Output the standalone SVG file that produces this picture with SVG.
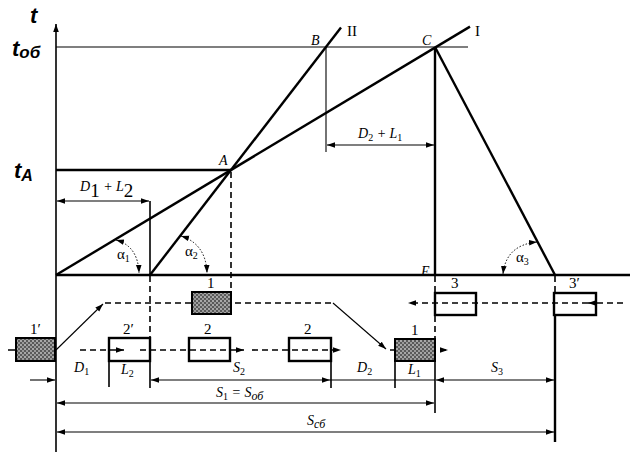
<svg xmlns="http://www.w3.org/2000/svg" width="637" height="458" viewBox="0 0 637 458">
<style>
.ln{stroke:#000;fill:none;stroke-linecap:butt}
.th{stroke-width:2.4}
.md{stroke-width:1.6}
.tn{stroke-width:1.1}
.ds{stroke-dasharray:6 4}
.dt{stroke-dasharray:1.5 1.8;stroke-width:1}
.lb{font-family:"Liberation Serif",serif;font-style:italic;font-size:14px;fill:#000}
.rm{font-family:"Liberation Serif",serif;font-size:15px;fill:#000}
.tt{font-family:"Liberation Sans",sans-serif;font-style:italic;font-weight:bold;font-size:22px;fill:#000}
.box{fill:none;stroke:#000;stroke-width:2.4}
.hb{fill:url(#hatch);stroke:#000;stroke-width:2}
</style>
<defs>
<pattern id="hatch" width="4" height="4" patternUnits="userSpaceOnUse">
<rect width="4" height="4" fill="#5a5a5a"/>
<rect width="2" height="2" fill="#a8a8a8"/>
<rect x="2" y="2" width="2" height="2" fill="#9a9a9a"/>
</pattern>
<marker id="ah" viewBox="0 0 10 10" refX="10" refY="5" markerWidth="8" markerHeight="8" markerUnits="userSpaceOnUse" orient="auto-start-reverse">
<path d="M0,1.5 L10,5 L0,8.5 Z" fill="#000"/>
</marker>
</defs>
<rect width="637" height="458" fill="#fff"/>

<g id="axes">
<line class="ln md" x1="56" y1="452" x2="56" y2="24" marker-end="url(#ah)"/>
<line class="ln th" x1="56" y1="275" x2="630" y2="275"/>
<text class="tt" x="30" y="23">t</text>
<text class="tt" x="12" y="56">t<tspan font-size="17" dy="2">об</tspan></text>
<text class="tt" x="14" y="178">t<tspan font-size="16" dy="3">A</tspan></text>
</g>

<g id="graph-lines">
<line class="ln tn" x1="56" y1="47" x2="468" y2="47"/>
<line class="ln th" x1="56" y1="170" x2="231" y2="170"/>
<line class="ln th" x1="56" y1="275" x2="470" y2="26.6"/>
<line class="ln th" x1="150" y1="275" x2="341" y2="27.4"/>
<line class="ln th" x1="435" y1="47" x2="555" y2="275"/>
<line class="ln tn" x1="326" y1="47" x2="326" y2="152"/>
<line class="ln th" x1="435" y1="47" x2="435" y2="275"/>
<line class="ln md" x1="150" y1="201" x2="150" y2="275"/>
<line class="ln md ds" x1="231" y1="172" x2="231" y2="292"/>
<line class="ln md ds" x1="150" y1="276" x2="150" y2="338"/>
<line class="ln md ds" x1="435" y1="276" x2="435" y2="339"/>
<line class="ln md ds" x1="555" y1="276" x2="555" y2="293"/>
</g>

<g id="point-labels">
<text class="lb" x="219" y="165">A</text>
<text class="lb" x="311" y="45">B</text>
<text class="lb" x="422" y="45">C</text>
<text class="lb" x="421" y="276">E</text>
<text class="rm" x="347" y="36">II</text>
<text class="rm" x="475" y="36">I</text>
</g>

<g id="dimension-top">
<line class="ln tn" x1="57" y1="201" x2="149" y2="201" marker-start="url(#ah)" marker-end="url(#ah)"/>
<text class="lb" x="80" y="191" font-size="15">D<tspan font-style="normal" font-size="19" dy="6">1</tspan><tspan dy="-6"> + L</tspan><tspan font-style="normal" font-size="19" dy="6">2</tspan></text>
<line class="ln tn" x1="327" y1="145" x2="434" y2="145" marker-start="url(#ah)" marker-end="url(#ah)"/>
<text class="lb" x="358" y="138">D<tspan font-style="normal" font-size="10" dy="3">2</tspan><tspan dy="-3"> + L</tspan><tspan font-style="normal" font-size="10" dy="3">1</tspan></text>
</g>

<g id="angles">
<path class="ln dt" d="M116,240 Q138,246 139,273" marker-start="url(#ah)" marker-end="url(#ah)"/>
<text class="rm" x="117" y="259">α<tspan font-size="10" dy="3">1</tspan></text>
<path class="ln dt" d="M181,236 Q206,244 207,273" marker-start="url(#ah)" marker-end="url(#ah)"/>
<text class="rm" x="185" y="256">α<tspan font-size="10" dy="3">2</tspan></text>
<path class="ln dt" d="M537,242 Q506,245 503,274" marker-start="url(#ah)" marker-end="url(#ah)"/>
<text class="rm" x="516" y="262">α<tspan font-size="10" dy="3">3</tspan></text>
</g>

<g id="connectors">
<line class="ln tn" x1="56" y1="350" x2="103" y2="304" marker-end="url(#ah)"/>
<line class="ln md ds" x1="105" y1="303" x2="332" y2="303"/>
<line class="ln tn" x1="333" y1="303" x2="386" y2="349" marker-end="url(#ah)"/>
<line class="ln md" x1="8" y1="350" x2="48" y2="350" marker-end="url(#ah)" stroke-dasharray="30 4"/>
<line class="ln md ds" x1="80" y1="350" x2="124" y2="350" marker-end="url(#ah)"/>
<line class="ln md ds" x1="140" y1="350" x2="188" y2="350"/>
<line class="ln md ds" x1="190" y1="350" x2="244" y2="350" marker-end="url(#ah)"/>
<line class="ln md ds" x1="252" y1="350" x2="341" y2="350" marker-end="url(#ah)"/>
<line class="ln md ds" x1="390" y1="350" x2="448" y2="350" marker-end="url(#ah)"/>
<line class="ln md ds" x1="623" y1="303" x2="588" y2="303" marker-end="url(#ah)"/>
<line class="ln md ds" x1="588" y1="303" x2="408" y2="303" marker-end="url(#ah)"/>
</g>

<g id="node-1-top">
<rect class="hb" x="192" y="292" width="39" height="22"/>
<text class="rm" x="207" y="288">1</text>
</g>
<g id="node-1prime">
<rect class="hb" x="16" y="338" width="39" height="23"/>
<text class="rm" x="30" y="334">1′</text>
</g>
<g id="node-2prime">
<rect class="box" x="109" y="338" width="41" height="23"/>
<line class="ln md" x1="109" y1="361" x2="109" y2="387"/>
<line class="ln md" x1="150" y1="361" x2="150" y2="388"/>
<text class="rm" x="123" y="334">2′</text>
</g>
<g id="node-2a">
<rect class="box" x="189" y="338" width="41" height="23"/>
<text class="rm" x="204" y="334">2</text>
</g>
<g id="node-2b">
<rect class="box" x="289" y="338" width="42" height="23"/>
<line class="ln md" x1="331" y1="361" x2="331" y2="388"/>
<text class="rm" x="304" y="334">2</text>
</g>
<g id="node-1-bottom">
<rect class="hb" x="395" y="339" width="40" height="22"/>
<line class="ln md" x1="395" y1="361" x2="395" y2="388"/>
<line class="ln md" x1="435" y1="340" x2="435" y2="413"/>
<text class="rm" x="411" y="335">1</text>
</g>
<g id="node-3">
<rect class="box" x="435" y="293" width="41" height="22"/>
<text class="rm" x="451" y="288">3</text>
</g>
<g id="node-3prime">
<rect class="box" x="554" y="293" width="42" height="22"/>
<line class="ln th" x1="555" y1="315" x2="555" y2="442"/>
<text class="rm" x="569" y="288">3′</text>
</g>

<g id="dimension-bottom">
<line class="ln tn" x1="30" y1="380" x2="55" y2="380" marker-end="url(#ah)"/>
<line class="ln tn" x1="151" y1="380" x2="330" y2="380" marker-start="url(#ah)" marker-end="url(#ah)"/>
<line class="ln tn" x1="330" y1="380" x2="435" y2="380"/>
<line class="ln tn" x1="436" y1="380" x2="554" y2="380" marker-start="url(#ah)" marker-end="url(#ah)"/>
<line class="ln tn" x1="57" y1="403" x2="434" y2="403" marker-start="url(#ah)" marker-end="url(#ah)"/>
<line class="ln tn" x1="57" y1="432" x2="554" y2="432" marker-start="url(#ah)" marker-end="url(#ah)"/>
<text class="lb" x="74" y="372">D<tspan font-style="normal" font-size="10" dy="3">1</tspan></text>
<text class="lb" x="121" y="374">L<tspan font-style="normal" font-size="10" dy="3">2</tspan></text>
<text class="lb" x="233" y="372">S<tspan font-style="normal" font-size="10" dy="3">2</tspan></text>
<text class="lb" x="357" y="372">D<tspan font-style="normal" font-size="10" dy="3">2</tspan></text>
<text class="lb" x="408" y="374">L<tspan font-style="normal" font-size="10" dy="3">1</tspan></text>
<text class="lb" x="491" y="372">S<tspan font-style="normal" font-size="10" dy="3">3</tspan></text>
<text class="lb" x="216" y="397" font-size="16">S<tspan font-style="normal" font-size="10" dy="3">1</tspan><tspan dy="-3"> = S</tspan><tspan font-size="12" dy="3">об</tspan></text>
<text class="lb" x="307" y="425" font-size="16">S<tspan font-size="12" dy="3">сб</tspan></text>
</g>
</svg>
